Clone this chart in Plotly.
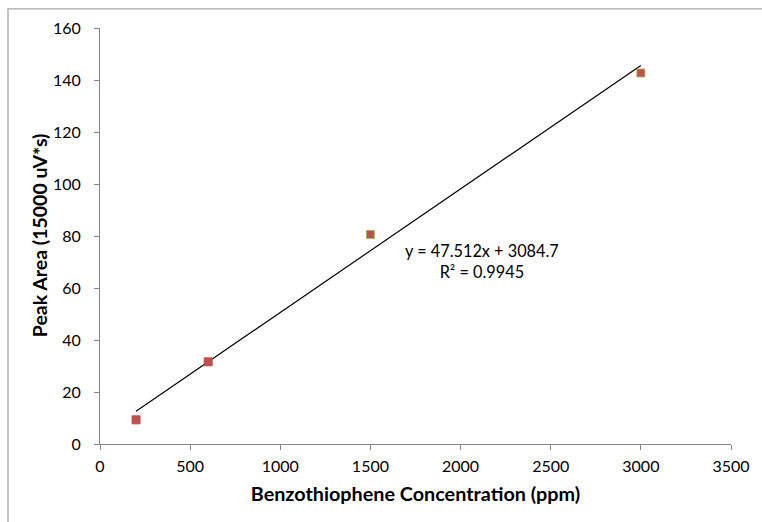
import plotly.graph_objects as go

# Calibration data: benzothiophene standards
concentration_ppm = [200, 600, 1500, 3000]
peak_area = [9.3, 31.6, 80.6, 142.7]
marker_edge = ["#C0504D", "#C0504D", "#9BBB59", "#9BBB59"]

# Linear trendline (raw-area units; plotted on the 1/1000 scale)
slope = 47.512
intercept = 3084.7
r_squared = 0.9945
trend_x = [200, 3000]
trend_y = [(slope * x + intercept) / 1000 for x in trend_x]

font_family = "Lato, 'Open Sans', sans-serif"

fig = go.Figure()
fig.add_trace(go.Scatter(
    x=trend_x, y=trend_y, mode="lines",
    line=dict(color="#000000", width=1.2),
    hoverinfo="skip", showlegend=False,
))
fig.add_trace(go.Scatter(
    x=concentration_ppm, y=peak_area, mode="markers",
    marker=dict(symbol="square", size=8, color="#C0504D",
                line=dict(color=marker_edge, width=1)),
    showlegend=False,
))

fig.add_annotation(
    x=2120, y=70.4, xref="x", yref="y",
    text=f"y = {slope}x + {intercept}<br>R² = {r_squared}",
    showarrow=False, align="center",
    font=dict(family=font_family, size=16.3, color="#000000"),
)

# Y-axis title placed as a rotated annotation
fig.add_annotation(
    x=-0.0967, y=0.502, xref="paper", yref="paper",
    text="<b>Peak Area (15000 uV*s)</b>", textangle=-90,
    showarrow=False, xanchor="center", yanchor="middle",
    font=dict(family=font_family, size=19.5, color="#000000"),
)

# Chart-area border
fig.add_shape(type="rect", xref="paper", yref="paper",
              x0=-0.1458, y0=-0.21, x1=1.07, y1=1.046,
              line=dict(color="#A6A6A6", width=1.3), layer="below")

axis_common = dict(
    showgrid=False, zeroline=False, showline=True,
    linecolor="#868686", linewidth=1,
    ticks="outside", ticklen=5, tickcolor="#868686",
    tickfont=dict(family=font_family, size=16, color="#000000"),
)

fig.update_xaxes(
    range=[0, 3500], tickvals=list(range(0, 3501, 500)),
    title=dict(text="<b>Benzothiophene Concentration (ppm)</b>",
               font=dict(family=font_family, size=19.8, color="#000000"),
               standoff=12),
    ticklabelstandoff=3,
    **axis_common,
)
fig.update_yaxes(
    range=[0, 160], tickvals=list(range(0, 161, 20)),
    ticklabelstandoff=10,
    **axis_common,
)

fig.update_layout(
    width=762, height=522,
    margin=dict(l=100, r=31, t=28, b=78),
    paper_bgcolor="#FFFFFF", plot_bgcolor="#FFFFFF",
)

fig.write_html("out.html")
